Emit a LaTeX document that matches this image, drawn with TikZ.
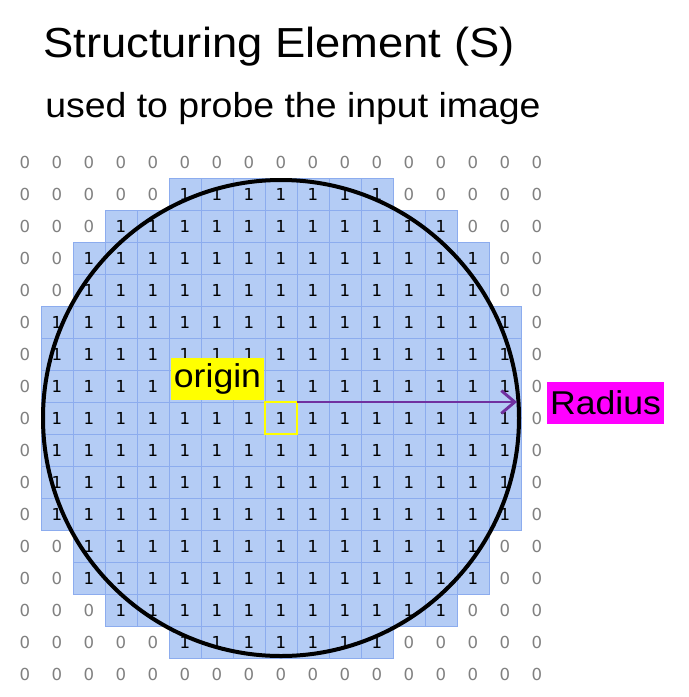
\documentclass[tikz,border=0pt]{standalone}
\usepackage{fontspec}
\usetikzlibrary{arrows.meta}
\newfontfamily\headfont[FakeStretch=1.08]{Liberation Sans}
\newfontfamily\digitfont{DejaVu Sans}
\definecolor{seblue}{RGB}{180,204,245}
\definecolor{seline}{RGB}{140,172,238}
\definecolor{zerogray}{RGB}{128,128,128}
\definecolor{radpurple}{RGB}{112,48,160}
\definecolor{tagyellow}{RGB}{255,255,0}
\definecolor{tagmagenta}{RGB}{255,0,255}
\tikzset{
    cellbox/.style={fill=seblue, draw=seline, line width=0.5pt},
    bit/.style={font=\digitfont\fontsize{12.4}{14}\selectfont, inner sep=0pt},
    tag/.style={font=\headfont\fontsize{24.75}{28}\selectfont, inner xsep=2pt, inner ysep=0pt, minimum height=31.5pt, text=black}
}
\begin{document}
\begin{tikzpicture}[x=0.75pt,y=-0.75pt]
    \useasboundingbox (0,0) rectangle (689,697);
    % Tiêu đề
    \node[anchor=base west, inner sep=0pt, font=\headfont\fontsize{31.5}{36}\selectfont] (title) at (43,57) {Structuring Element (S)};
    \node[anchor=base west, inner sep=0pt, font=\headfont\fontsize{26}{30}\selectfont] (subtitle) at (45,117) {used to probe the input image};
    
    % Vẽ các ô và ghi số 0, 1
    \foreach \r in {0,...,16}
    \foreach \c in {0,...,16} {
        \pgfmathtruncatemacro{\d}{(\c-8)*(\c-8)+(\r-8)*(\r-8)}
        \ifnum\d<64
            \draw[cellbox] ({9+32*\c},{146+32*\r}) rectangle +(32,32);
            \node[bit] (b-\r-\c) at ({25+32*\c},{162+32*\r}) {1};
        \else
            \node[bit, text=zerogray] (b-\r-\c) at ({25+32*\c},{162+32*\r}) {0};
        \fi
    }
    
    % Vẽ đường tròn
    \draw[line width=3pt] (281,418) circle[radius=238];
    
    % Ô gốc và bán kính
    \node[draw=tagyellow, line width=2.2pt, minimum size=24pt, inner sep=0pt, outer sep=0pt] (ctr) at (281,418) {};
    \node[tag, fill=tagyellow] (origin) at (217.5,379) {origin};
    \coordinate (rim) at (517,402);
    \draw[radpurple, line width=2.2pt, -{Straight Barb[length=10pt,width=17pt]}] (ctr.north east) -- (rim);
    \node[tag, fill=tagmagenta] (radius) at (605.5,403) {Radius};
\end{tikzpicture}
\end{document}
